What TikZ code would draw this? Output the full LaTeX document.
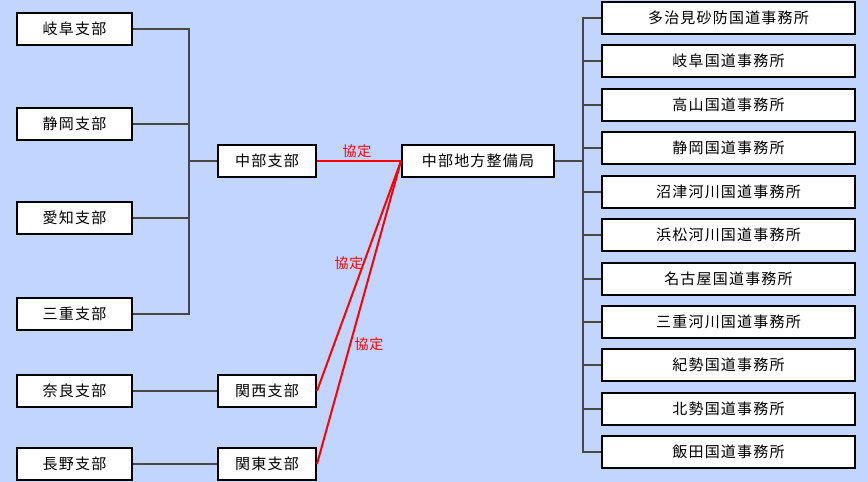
\documentclass[tikz,border=0pt]{standalone}
\usepackage{fontspec}
\setmainfont{Noto Sans CJK JP}[LetterSpace=8]
\newfontfamily\redfont{Noto Sans CJK JP}[LetterSpace=4]
\definecolor{bgblue}{HTML}{C1D5FE}
\definecolor{linegray}{HTML}{474747}
\begin{document}
\begin{tikzpicture}[x=1pt,y=-1pt,
  box/.style={draw=black,line width=2pt,fill=white,inner sep=0pt,minimum height=32pt,font=\fontsize{15}{16}\selectfont},
  lbox/.style={box,minimum width=115pt},
  mbox/.style={box,minimum width=98pt},
  rbox/.style={box,minimum width=253pt},
  gline/.style={draw=linegray,line width=2pt},
  rline/.style={draw=red,line width=2pt},
  agr/.style={text=red,font=\redfont\fontsize{14}{15}\selectfont,inner sep=0pt}]
\fill[bgblue] (0,0) rectangle (868,482);
\useasboundingbox (0,0) rectangle (868,482);
% left boxes
\node[lbox] (gifu) at (74.5,29) {岐阜支部};
\node[lbox] (shizuoka) at (74.5,124) {静岡支部};
\node[lbox] (aichi) at (74.5,218) {愛知支部};
\node[lbox] (mie) at (74.5,314) {三重支部};
\node[lbox] (nara) at (74.5,391) {奈良支部};
\node[lbox] (nagano) at (74.5,464) {長野支部};
% middle boxes
\node[mbox] (chubu) at (267,161) {中部支部};
\node[mbox] (kansai) at (267,391) {関西支部};
\node[mbox] (kanto) at (267,464) {関東支部};
% bureau
\node[box,minimum width=152pt] (bureau) at (478,161) {中部地方整備局};
% right boxes
\node[rbox] (r1) at (728.5,18) {多治見砂防国道事務所};
\node[rbox] (r2) at (728.5,61) {岐阜国道事務所};
\node[rbox] (r3) at (728.5,105) {高山国道事務所};
\node[rbox] (r4) at (728.5,148) {静岡国道事務所};
\node[rbox] (r5) at (728.5,192) {沼津河川国道事務所};
\node[rbox] (r6) at (728.5,235) {浜松河川国道事務所};
\node[rbox] (r7) at (728.5,279) {名古屋国道事務所};
\node[rbox] (r8) at (728.5,322) {三重河川国道事務所};
\node[rbox] (r9) at (728.5,365) {紀勢国道事務所};
\node[rbox] (r10) at (728.5,409) {北勢国道事務所};
\node[rbox] (r11) at (728.5,452) {飯田国道事務所};
% left bracket
\coordinate (lb) at (189,0);
\draw[gline] (gifu.east) -- (gifu.east -| lb) -- (mie.east -| lb) -- (mie.east);
\draw[gline] (shizuoka.east) -- (shizuoka.east -| lb);
\draw[gline] (aichi.east) -- (aichi.east -| lb);
\draw[gline] (chubu.west -| lb) -- (chubu.west);
\draw[gline] (nara.east) -- (kansai.west);
\draw[gline] (nagano.east) -- (kanto.west);
% right bracket
\coordinate (rb) at (583,0);
\draw[gline] (r1.west) -- (r1.west -| rb) -- (r11.west -| rb) -- (r11.west);
\foreach \n in {r2,r3,r4,r5,r6,r7,r8,r9,r10} {\draw[gline] (\n.west) -- (\n.west -| rb);}
\draw[gline] (bureau.east) -- (bureau.east -| rb);
% agreements
\draw[rline] (chubu.east) -- (bureau.west);
\draw[rline] (kansai.east) -- (bureau.west);
\draw[rline] (kanto.east) -- (bureau.west);
\node[agr] (a1) at (357,151) {協定};
\node[agr] (a2) at (349,263) {協定};
\node[agr] (a3) at (369,344) {協定};
\end{tikzpicture}
\end{document}
